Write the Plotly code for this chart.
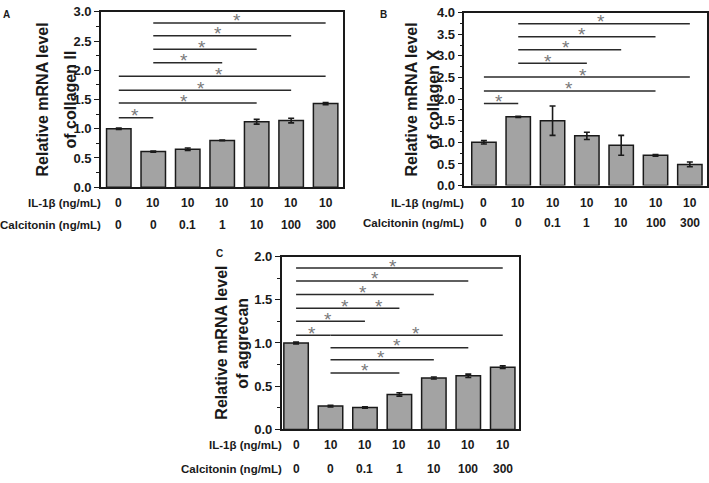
import plotly.graph_objects as go

W, H = 709, 483
FONT = "Arial, Liberation Sans, sans-serif"
BAR_FILL = "#a3a3a3"
DARK = "#1a1a1a"

IL1B = ["0", "10", "10", "10", "10", "10", "10"]
CALCITONIN = ["0", "0", "0.1", "1", "10", "100", "300"]
GROUPS = list(range(7))

# panel A - collagen II
COL2_MEAN = [1.00, 0.61, 0.65, 0.80, 1.12, 1.14, 1.43]
COL2_ERR = [0.01, 0.01, 0.02, 0.005, 0.04, 0.04, 0.02]
COL2_SIG_START = [1, 1, 1, 1, 0, 0, 0, 0]
COL2_SIG_END = [6, 5, 4, 3, 6, 5, 4, 1]
COL2_SIG_Y = [2.81, 2.59, 2.36, 2.13, 1.90, 1.66, 1.44, 1.19]
COL2_STAR_X = [3.44, 2.88, 2.40, 1.89, 2.90, 2.38, 1.89, 0.46]
COL2_STAR_Y = COL2_SIG_Y

# panel B - collagen X
COLX_MEAN = [1.00, 1.59, 1.50, 1.15, 0.93, 0.70, 0.49]
COLX_ERR = [0.04, 0.015, 0.34, 0.085, 0.23, 0.02, 0.055]
COLX_SIG_START = [1, 1, 1, 1, 0, 0, 0]
COLX_SIG_END = [6, 5, 4, 3, 6, 5, 1]
COLX_SIG_Y = [3.74, 3.44, 3.14, 2.83, 2.51, 2.19, 1.90]
COLX_STAR_X = [3.42, 2.87, 2.38, 1.88, 2.89, 2.49, 0.44]
COLX_STAR_Y = COLX_SIG_Y

# panel C - aggrecan
AGG_MEAN = [1.00, 0.27, 0.255, 0.405, 0.595, 0.62, 0.72]
AGG_ERR = [0.01, 0.01, 0.008, 0.02, 0.012, 0.02, 0.015]
AGG_SIG_START = [0, 0, 0, 0, 0, 0, 1, 1, 1, 1]
AGG_SIG_END = [6, 5, 4, 3, 2, 1, 6, 5, 4, 3]
AGG_SIG_Y = [1.867, 1.717, 1.56, 1.403, 1.251, 1.09, 1.09, 0.944, 0.806, 0.653]
AGG_STAR_X = [2.81, 2.30, 1.94, 1.43, 2.40, 0.94, 0.46, 3.48, 2.92, 2.47, 1.99]
AGG_STAR_Y = [1.867, 1.717, 1.56, 1.403, 1.403, 1.251, 1.09, 1.09, 0.944, 0.806, 0.653]


def px(x):
    return x / W


def py(y):
    return 1 - y / H


PANELS = [
    dict(name="A", ax="", mean=COL2_MEAN, err=COL2_ERR, s0=COL2_SIG_START, s1=COL2_SIG_END,
         sy=COL2_SIG_Y, stx=COL2_STAR_X, sty=COL2_STAR_Y, gene="of collagen II",
         box=(101, 343, 5, 186), xr=[-0.52, 6.49], yr=3.0,
         title_x=(43, 71), rows=(202, 225), label=(7, 8)),
    dict(name="B", ax="2", mean=COLX_MEAN, err=COLX_ERR, s0=COLX_SIG_START, s1=COLX_SIG_END,
         sy=COLX_SIG_Y, stx=COLX_STAR_X, sty=COLX_STAR_Y, gene="of collagen X",
         box=(465, 708, 5.8, 184.3), xr=[-0.57, 6.5], yr=4.0,
         title_x=(412, 434), rows=(202, 223), label=(384, 8)),
    dict(name="C", ax="3", mean=AGG_MEAN, err=AGG_ERR, s0=AGG_SIG_START, s1=AGG_SIG_END,
         sy=AGG_SIG_Y, stx=AGG_STAR_X, sty=AGG_STAR_Y, gene="of aggrecan",
         box=(282, 520, 257.5, 436), xr=[-0.42, 6.48], yr=2.0,
         title_x=(222, 243), rows=(452, 477), label=(220, 254)),
]

fig = go.Figure()
annotations = []
layout = {}

for p in PANELS:
    xa, ya = "x" + p["ax"], "y" + p["ax"]
    fig.add_trace(go.Bar(
        x=GROUPS, y=p["mean"], width=0.71, xaxis=xa, yaxis=ya,
        marker=dict(color=BAR_FILL, line=dict(color=DARK, width=1.5)),
        error_y=dict(type="data", array=p["err"], color=DARK, thickness=1.6, width=3),
        showlegend=False,
    ))
    lx, ly = [], []
    for a, b, h in zip(p["s0"], p["s1"], p["sy"]):
        lx += [a, b, None]
        ly += [h, h, None]
    fig.add_trace(go.Scatter(x=lx, y=ly, mode="lines", xaxis=xa, yaxis=ya,
                             line=dict(color="#2a2a2a", width=1.5), showlegend=False,
                             hoverinfo="skip"))
    for sx, sy in zip(p["stx"], p["sty"]):
        annotations.append(dict(x=sx, y=sy, xref=xa, yref=ya, text="*", showarrow=False,
                                yanchor="middle", yshift=2,
                                font=dict(family=FONT, size=19, color="#7a7a7a")))

    x0, x1, y0, y1 = p["box"]
    axis_x = dict(domain=[px(x0), px(x1)], range=p["xr"], anchor=ya, showticklabels=False,
                  ticks="", showline=True, mirror=True, linecolor=DARK, linewidth=1.5,
                  showgrid=False, zeroline=False, fixedrange=True)
    axis_y = dict(domain=[py(y1), py(y0)], range=[0, p["yr"]], anchor=xa, dtick=0.5,
                  tickformat=".1f", ticks="outside", ticklen=5, tickwidth=1.3, tickcolor=DARK,
                  minor=dict(dtick=0.25, ticks="outside", ticklen=3, tickwidth=1.1, tickcolor=DARK),
                  showline=True, mirror=True, linecolor=DARK, linewidth=1.5, showgrid=False,
                  zeroline=False, tickfont=dict(family=FONT, size=13, color=DARK, weight="bold"))
    layout["xaxis" + p["ax"]] = axis_x
    layout["yaxis" + p["ax"]] = axis_y

    ymid = py((y0 + y1) / 2)
    for txt, tx in zip(["Relative mRNA level", p["gene"]], p["title_x"]):
        annotations.append(dict(x=px(tx), y=ymid, xref="paper", yref="paper", text="<b>" + txt + "</b>",
                                textangle=-90, showarrow=False, xanchor="center", yanchor="middle",
                                font=dict(family=FONT, size=16, color=DARK)))

    for row_y, row_label, vals in zip(p["rows"], ["IL-1β (ng/mL)", "Calcitonin (ng/mL)"],
                                      [IL1B, CALCITONIN]):
        annotations.append(dict(x=px(x0 + 2), y=py(row_y), xref="paper", yref="paper",
                                text="<b>" + row_label + "</b>", showarrow=False,
                                xanchor="right", yanchor="middle",
                                font=dict(family=FONT, size=11.5, color=DARK)))
        for g, v in zip(GROUPS, vals):
            annotations.append(dict(x=g, y=py(row_y), xref=xa, yref="paper", text="<b>" + v + "</b>",
                                    showarrow=False, xanchor="center", yanchor="middle",
                                    font=dict(family=FONT, size=12, color=DARK)))

    annotations.append(dict(x=px(p["label"][0]), y=py(p["label"][1]), xref="paper", yref="paper",
                            text="<b>" + p["name"] + "</b>", showarrow=False,
                            xanchor="center", yanchor="middle",
                            font=dict(family=FONT, size=10, color=DARK)))

fig.update_layout(
    width=W, height=H, margin=dict(l=0, r=0, t=0, b=0),
    paper_bgcolor="white", plot_bgcolor="white",
    font=dict(family=FONT, color=DARK),
    annotations=annotations, bargap=0.3,
    **layout,
)

fig.write_html("out.html", config={"displayModeBar": False},
               post_script="document.body.style.margin='0';document.body.style.overflow='hidden';")
